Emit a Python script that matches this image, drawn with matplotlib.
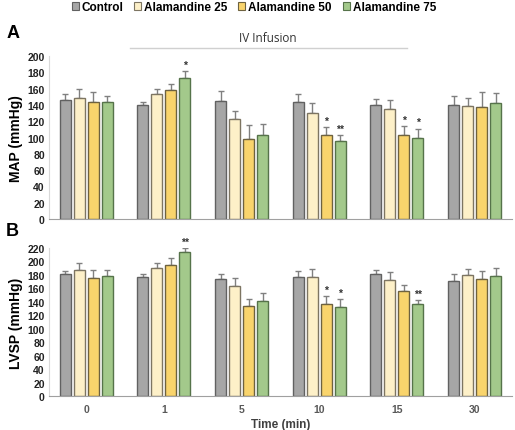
import matplotlib
matplotlib.use("Agg")
import matplotlib.pyplot as plt
from matplotlib.patches import Patch
import numpy as np

plt.rcParams["font.family"] = ["Liberation Sans", "DejaVu Sans"]

times = ["0", "1", "5", "10", "15", "30"]
series = ["Control", "Alamandine 25", "Alamandine 50", "Alamandine 75"]

map_control = [146, 140, 145, 144, 139.5, 139.5]
map_ala25 = [149, 153, 123, 130, 135, 139]
map_ala50 = [143.5, 158, 98.5, 103, 103, 138]
map_ala75 = [144, 172.5, 103, 96, 100, 142]
map_err_control = [7, 4, 12, 10, 8, 11]
map_err_ala25 = [11, 7, 10, 12, 11, 10]
map_err_ala50 = [12, 8, 17, 10, 11, 18]
map_err_ala75 = [7, 9, 14, 7, 11, 13]
map_stars_ala50 = ["", "", "", "*", "*", ""]
map_stars_ala75 = ["", "*", "", "**", "*", ""]

lvsp_control = [182, 176.5, 174, 176.5, 181, 170.5]
lvsp_ala25 = [188, 190, 163, 176.5, 172.5, 180]
lvsp_ala50 = [175, 195, 134, 136, 155.5, 174.5]
lvsp_ala75 = [178, 213.5, 141.5, 132, 136, 178.5]
lvsp_err_control = [4, 4.5, 7, 9, 7, 11]
lvsp_err_ala25 = [10, 8, 13, 12.5, 12.5, 9]
lvsp_err_ala50 = [12, 10, 10, 12, 10, 12]
lvsp_err_ala75 = [9, 6.5, 12, 12, 7, 12]
lvsp_stars_ala50 = ["", "", "", "*", "", ""]
lvsp_stars_ala75 = ["", "**", "", "*", "**", ""]

fills = ["#a6a6a6", "#fdf0c8", "#f9d46c", "#a3c98b"]
edges = ["#616161", "#7d7562", "#6e6240", "#56734a"]

fig = plt.figure(figsize=(5.15, 4.31), dpi=100)
axA = fig.add_axes([0.095, 0.4896, 0.899, 0.378])
axB = fig.add_axes([0.095, 0.0789, 0.899, 0.3434])

x = np.arange(len(times))
offs = np.array([-1.5, -0.5, 0.5, 1.5]) * 0.18
bw = 0.142


def draw(ax, vals, errs, stars, ymax, step, ylabel):
    for i in range(4):
        ax.bar(x + offs[i], vals[i], bw, color=fills[i], edgecolor=edges[i],
               linewidth=1.0, zorder=2)
        ax.errorbar(x + offs[i], vals[i], yerr=[np.zeros(len(x)), errs[i]],
                    fmt="none", ecolor="#808080", elinewidth=1.0, capsize=2,
                    capthick=1.0, zorder=1)
    for i, st in stars.items():
        for j, s in enumerate(st):
            if s:
                ax.text(x[j] + offs[i], vals[i][j] + errs[i][j] + 1.5 * ymax / 200,
                        s, ha="center", va="bottom", fontsize=7.5,
                        fontweight="bold", color="#333333")
    ax.set_xlim(-0.48, 5.48)
    ax.set_ylim(0, ymax)
    ax.set_yticks(np.arange(0, ymax + 1, step))
    ax.tick_params(axis="both", length=0, labelsize=7.5, pad=3)
    for lab in ax.get_yticklabels():
        lab.set_fontweight("bold")
        lab.set_color("#222222")
    for sp in ["top", "right"]:
        ax.spines[sp].set_visible(False)
    ax.spines["left"].set_color("#d9d9d9")
    ax.spines["bottom"].set_color("#a0a0a0")
    ax.set_ylabel(ylabel, fontsize=10, fontweight="bold", labelpad=3)


draw(axA, [map_control, map_ala25, map_ala50, map_ala75],
     [map_err_control, map_err_ala25, map_err_ala50, map_err_ala75],
     {2: map_stars_ala50, 3: map_stars_ala75}, 200, 20, "MAP (mmHg)")
axA.set_xticks(x)
axA.set_xticklabels([])

draw(axB, [lvsp_control, lvsp_ala25, lvsp_ala50, lvsp_ala75],
     [lvsp_err_control, lvsp_err_ala25, lvsp_err_ala50, lvsp_err_ala75],
     {2: lvsp_stars_ala50, 3: lvsp_stars_ala75}, 220, 20, "LVSP (mmHg)")
axB.set_xticks(x)
axB.set_xticklabels(times, fontsize=7.5, fontweight="bold", color="#595959")
axB.tick_params(axis="x", pad=6)
axB.set_xlabel("Time (min)", fontsize=8.5, fontweight="bold", color="#404040", labelpad=3)

fig.text(0.012, 0.923, "A", fontsize=13, fontweight="bold", va="center")
fig.text(0.012, 0.462, "B", fontsize=13, fontweight="bold", va="center")

fig.text(268 / 515, 1 - 39 / 431, "IV Infusion", fontsize=8.5, ha="center",
         va="center", color="#333333", family=["Open Sans", "DejaVu Sans"])
fig.add_artist(plt.Line2D([130 / 515, 407 / 515], [1 - 49 / 431, 1 - 49 / 431],
                          color="#d0d0d0", lw=1.0, transform=fig.transFigure))

handles = [Patch(facecolor=fills[i], edgecolor=edges[i], linewidth=0.8) for i in range(4)]
leg = fig.legend(handles, series, loc="center", bbox_to_anchor=(0.493, 1 - 8 / 431),
                 ncol=4, frameon=False, handlelength=0.6, handleheight=0.6,
                 handletextpad=0.25, columnspacing=0.9,
                 prop={"weight": "bold", "size": 8.5})

fig.savefig("out.png", dpi=100)
